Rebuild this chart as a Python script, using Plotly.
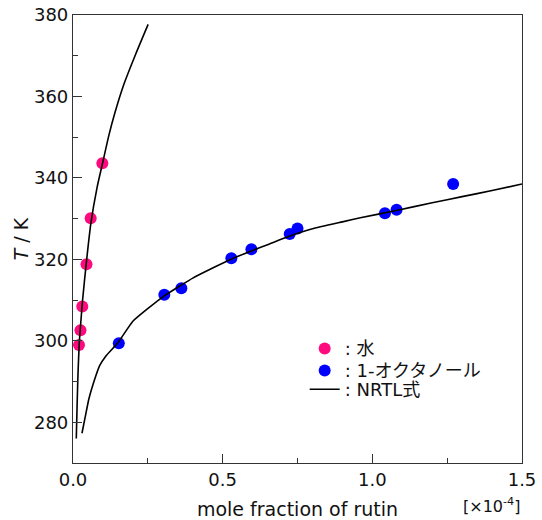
import plotly.graph_objects as go

# Data (mole fraction x1e4, temperature K)
water_x = [0.020, 0.025, 0.031, 0.045, 0.059, 0.098]
water_T = [299.0, 302.6, 308.4, 318.8, 330.1, 343.6]

oct_x = [0.153, 0.305, 0.362, 0.529, 0.596, 0.724, 0.750, 1.042, 1.081, 1.270]
oct_T = [299.4, 311.3, 312.9, 320.3, 322.5, 326.2, 327.6, 331.3, 332.2, 338.5]

nrtl_w_x = [0.011, 0.014, 0.017, 0.021, 0.026, 0.032, 0.045, 0.060, 0.080, 0.100, 0.120, 0.140, 0.170, 0.210, 0.251]
nrtl_w_T = [276.0, 285.0, 292.5, 299.5, 304.5, 310.0, 319.5, 329.0, 337.5, 344.0, 350.5, 356.0, 363.0, 370.5, 377.7]

nrtl_o_x = [0.030, 0.040, 0.053, 0.070, 0.089, 0.110, 0.150, 0.200, 0.300, 0.360, 0.400, 0.470, 0.530, 0.600, 0.650,
            0.720, 0.800, 0.900, 0.960, 1.080, 1.200, 1.300, 1.400, 1.500]
nrtl_o_T = [277.3, 281.0, 285.7, 290.0, 293.9, 296.3, 299.5, 304.8, 310.8, 313.6, 315.4, 318.0, 320.1, 322.2, 323.6,
            325.6, 327.5, 329.2, 330.2, 332.0, 333.9, 335.4, 336.9, 338.5]

FONT = "DejaVu Sans, Noto Sans CJK JP, sans-serif"
INK = "#111"
AX = "#333"

fig = go.Figure()
fig.add_trace(go.Scatter(x=water_x, y=water_T, mode="markers", name=": 水", legend="legend",
                         marker=dict(color="#FF0A7E", size=12, line=dict(width=0))))
fig.add_trace(go.Scatter(x=oct_x, y=oct_T, mode="markers", name=": 1-オクタノール", legend="legend2",
                         marker=dict(color="#0000FF", size=12, line=dict(width=0))))
fig.add_trace(go.Scatter(x=nrtl_w_x, y=nrtl_w_T, mode="lines", name=": NRTL式", legend="legend3",
                         line=dict(color="black", width=1.6, shape="spline", smoothing=0.6)))
fig.add_trace(go.Scatter(x=nrtl_o_x, y=nrtl_o_T, mode="lines", name=": NRTL式", showlegend=False,
                         line=dict(color="black", width=1.6, shape="spline", smoothing=0.4)))

axis_common = dict(showgrid=False, zeroline=False, showline=True, linecolor=AX, automargin=False,
                   linewidth=1.2, mirror=True, ticks="inside", ticklen=9, tickcolor=AX,
                   tickfont=dict(size=18, color=INK, family=FONT))

fig.update_xaxes(range=[0, 1.5], tick0=0, dtick=0.5, tickformat=".1f",
                 minor=dict(ticks="inside", ticklen=5, dtick=0.25, tickcolor=AX),
                 title=dict(text="mole fraction of rutin", font=dict(size=19, color=INK, family=FONT), standoff=13),
                 **axis_common)
fig.update_yaxes(range=[270, 380], tick0=280, dtick=20,
                 minor=dict(ticks="inside", ticklen=5, dtick=10, tickcolor=AX),
                 title=dict(text="<i>T</i> / K", font=dict(size=19, color=INK, family=FONT), standoff=0),
                 **axis_common)

fig.add_annotation(text="[×10<sup>-4</sup>]", x=1.0, y=-0.095, xref="paper", yref="paper",
                   xanchor="right", yanchor="middle", showarrow=False,
                   font=dict(size=16, color=INK, family=FONT))

leg_common = dict(x=0.516, xanchor="left", yanchor="middle", bgcolor="rgba(0,0,0,0)",
                  font=dict(size=18, color=INK, family=FONT), itemwidth=30)

fig.update_layout(
    width=542, height=520,
    margin=dict(l=73, r=20, t=15, b=57),
    paper_bgcolor="white", plot_bgcolor="white",
    font=dict(family=FONT, size=18, color=INK),
    legend=dict(y=0.255, **leg_common),
    legend2=dict(y=0.206, **leg_common),
    legend3=dict(y=0.164, **leg_common),
    showlegend=True,
)

fig.write_html("out.html")
